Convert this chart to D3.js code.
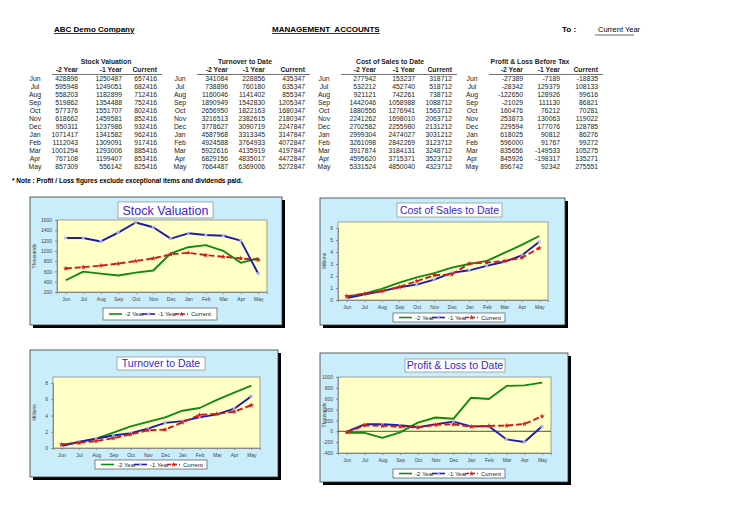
<!DOCTYPE html>
<html>
<head>
<meta charset="utf-8">
<title>Management Accounts</title>
<script src="https://cdnjs.cloudflare.com/ajax/libs/d3/7.8.5/d3.min.js"></script>
<style>
body{
margin:0;
background:#fff
}
svg{
display:block;
font-family:"Liberation Sans",Arial,sans-serif
}
</style>
</head>
<body>
<script>

// data
var months = ['Jun','Jul','Aug','Sep','Oct','Nov','Dec','Jan','Feb','Mar','Apr','May']
var seriesNames = ['-2 Year','-1 Year','Current']

var stockPrev2 = [428896,595948,558203,519862,577376,618662,950311,1071417,1112043,1001294,767108,857309]
var stockPrev1 = [1250487,1249051,1182899,1354488,1551707,1459581,1237986,1341582,1309091,1293006,1199407,556142]
var stockCurrent = [657416,682416,712416,752416,802416,852416,932416,962416,917416,885416,853416,825416]

var turnPrev2 = [341084,738896,1160046,1890949,2656950,3216513,3778627,4587968,4924588,5922616,6829156,7664487]
var turnPrev1 = [228856,760180,1141402,1542830,1822163,2382615,3090719,3313345,3764933,4135919,4835017,6369006]
var turnCurrent = [435347,635347,855347,1205347,1680347,2180347,2247847,3147847,4072847,4197847,4472847,5272847]

var costPrev2 = [277942,532212,921121,1442046,1880556,2241262,2702582,2999304,3261098,3917874,4595620,5331524]
var costPrev1 = [153237,452740,742261,1058988,1276941,1698010,2255980,2474027,2842269,3184131,3715371,4850040]
var costCurrent = [318712,518712,738712,1088712,1563712,2063712,2131212,3031212,3123712,3248712,3523712,4323712]

var profitPrev2 = [-27389,-28342,-122650,-21029,160476,253873,229594,618025,596000,835656,845926,896742]
var profitPrev1 = [-7189,129379,128926,111130,76212,130063,177076,90812,91767,-149533,-198317,92342]
var profitCurrent = [-18835,108133,99616,86821,70281,119022,128785,86276,99272,105275,135271,275551]

var stockTicks = [200,400,600,800,1000,1200,1400,1600]
var costTicks = [0,1,2,3,4,5,6]
var turnTicks = [0,2,4,6,8]
var profitTicks = [-400,-200,0,200,400,600,800,1000]

var tables = [
	{title:'Stock Valuation', series:[stockPrev2,stockPrev1,stockCurrent]},
	{title:'Turnover to Date', series:[turnPrev2,turnPrev1,turnCurrent]},
	{title:'Cost of Sales to Date', series:[costPrev2,costPrev1,costCurrent]},
	{title:'Profit & Loss Before Tax', series:[profitPrev2,profitPrev1,profitCurrent]}
]

// layout
var monthX = [35,180,324,472]
var valueX = [[78,122,157],[228,265,305],[376,415,452],[523,560,598]]
var titleX = [106,245,390,530]

var colors = ['#108a10','#1c1cb0','#d01818']

var charts = [
	{title:'Stock Valuation', series:[stockPrev2,stockPrev1,stockCurrent], div:1000, unit:'Thousands', ticks:stockTicks,
	 box:[30,197,252,128], plot:[57,220,210,72], pad:0, titleBox:[118,202,95,16], titleSize:12.5, legend:[103,308,114,12]},
	{title:'Cost of Sales to Date', series:[costPrev2,costPrev1,costCurrent], div:1000000, unit:'Millions', ticks:costTicks,
	 box:[320,198,245,127], plot:[338,222,210,78], pad:6, titleBox:[397,203,105,14], titleSize:10.5, legend:[393,313,112,9]},
	{title:'Turnover to Date', series:[turnPrev2,turnPrev1,turnCurrent], div:1000000, unit:'Millions', ticks:turnTicks,
	 box:[30,350,248,127], plot:[53,377,207,71], pad:6, titleBox:[117,357,88,13], titleSize:10.5, legend:[95,460,112,9]},
	{title:'Profit & Loss to Date', series:[profitPrev2,profitPrev1,profitCurrent], div:1000, unit:'Thousands', ticks:profitTicks,
	 box:[320,353,248,129], plot:[338,377,213,76], pad:0, titleBox:[405,359,100,13], titleSize:10.5, legend:[393,469,112,9]}
]

var svg = d3.select('body').append('svg').attr('width',730).attr('height',516)

// header
function headText(x, y, s, anchor){
	return svg.append('text').attr('x',x).attr('y',y).attr('font-size',8).attr('font-weight','bold')
		.attr('text-anchor',anchor||'start').text(s)
}
headText(54,32,'ABC Demo Company').attr('text-decoration','underline')
headText(272,32,'MANAGEMENT  ACCOUNTS').attr('text-decoration','underline').style('white-space','pre')
headText(562,32,'To :')
svg.append('text').attr('x',598).attr('y',32).attr('font-size',7.5).text('Current Year')
svg.append('line').attr('x1',595).attr('x2',634).attr('y1',35).attr('y2',35).attr('stroke','#000').attr('stroke-width',0.6)

// tables
tables.forEach(function(t,i){
	var g = svg.append('g').attr('font-size',6.8).attr('fill','#222')
	g.append('text').attr('x',titleX[i]).attr('y',64).attr('text-anchor','middle')
		.attr('font-weight','bold').text(t.title)
	seriesNames.forEach(function(n,j){
		g.append('text').attr('x',valueX[i][j]).attr('y',72).attr('text-anchor','end')
			.attr('font-weight','bold').text(n)
	})
	g.append('line').attr('x1',monthX[i]+17).attr('x2',valueX[i][2]+5).attr('y1',74.5).attr('y2',74.5)
		.attr('stroke','#333').attr('stroke-width',0.7)
	months.forEach(function(m,r){
		var y = 79 + r*8
		g.append('text').attr('x',monthX[i]).attr('y',y).attr('dy','0.35em').attr('text-anchor','middle').text(m)
		t.series.forEach(function(s,j){
			g.append('text').attr('x',valueX[i][j]).attr('y',y).attr('dy','0.35em').attr('text-anchor','end').text(s[r])
		})
	})
})

svg.append('text').attr('x',12).attr('y',183).attr('font-size',6.5).attr('font-weight','bold')
	.text('* Note : Profit / Loss figures exclude exceptional items and dividends paid.')

// charts
function marker(g, idx, x, y){
	if(idx == 1){
		g.append('path').attr('d',d3.symbol(d3.symbolCross,8)()).attr('transform','translate('+x+','+y+') rotate(45)')
			.attr('fill','#b8b8ee')
	}else if(idx == 2){
		g.append('path').attr('d',d3.symbol(d3.symbolStar,9)()).attr('transform','translate('+x+','+y+')')
			.attr('fill','#d01818')
	}
}

charts.forEach(function(c){
	var g = svg.append('g')
	var b = c.box, p = c.plot
	g.append('rect').attr('x',b[0]+3).attr('y',b[1]+3).attr('width',b[2]).attr('height',b[3]).attr('fill','#000')
	g.append('rect').attr('x',b[0]).attr('y',b[1]).attr('width',b[2]).attr('height',b[3])
		.attr('fill','#c9edfb').attr('stroke','#3a3a3a').attr('stroke-width',0.8)
	g.append('rect').attr('x',p[0]).attr('y',p[1]).attr('width',p[2]).attr('height',p[3])
		.attr('fill','#ffffc6').attr('stroke','#8a8a8a').attr('stroke-width',0.8)

	var x = d3.scalePoint().domain(months).range([p[0],p[0]+p[2]]).padding(0.5)
	var y = d3.scaleLinear().domain([c.ticks[0],c.ticks[c.ticks.length-1]]).range([p[1]+p[3],p[1]+c.pad])

	var ya = g.append('g').attr('transform','translate('+p[0]+',0)')
		.call(d3.axisLeft(y).tickValues(c.ticks).tickFormat(function(d){return String(d)}).tickSize(2).tickPadding(3))
	var xa = g.append('g').attr('transform','translate(0,'+(p[1]+p[3])+')')
		.call(d3.axisBottom(x).tickSize(2).tickPadding(3))
	;[ya,xa].forEach(function(a){
		a.attr('font-size',5).attr('font-family','"Liberation Sans",Arial,sans-serif')
		a.select('.domain').attr('stroke','#8a8a8a')
		a.selectAll('.tick line').attr('stroke','#8a8a8a')
		a.selectAll('text').attr('fill','#444')
	})

	if(c.ticks[0] < 0){
		g.append('line').attr('x1',p[0]).attr('x2',p[0]+p[2]).attr('y1',y(0)).attr('y2',y(0))
			.attr('stroke','#222').attr('stroke-width',0.8)
	}

	g.append('text').attr('transform','translate('+(b[0]+5.5)+','+(p[1]+p[3]/2)+') rotate(-90)')
		.attr('text-anchor','middle').attr('font-size',5).attr('fill','#444').text(c.unit)

	var line = d3.line().x(function(d,i){return x(months[i])}).y(function(d){return y(d/c.div)})
	c.series.forEach(function(s,k){
		g.append('path').datum(s).attr('d',line).attr('fill','none').attr('stroke',colors[k])
			.attr('stroke-width',1.9).attr('stroke-dasharray',k==2?'6,3':null).attr('stroke-linejoin','round')
		s.forEach(function(d,i){ marker(g,k,x(months[i]),y(d/c.div)) })
	})

	var tb = c.titleBox
	g.append('rect').attr('x',tb[0]).attr('y',tb[1]).attr('width',tb[2]).attr('height',tb[3])
		.attr('fill','#fff').attr('stroke','#8a8a8a').attr('stroke-width',0.7)
	g.append('text').attr('x',tb[0]+tb[2]/2).attr('y',tb[1]+tb[3]/2).attr('dy','0.36em').attr('text-anchor','middle')
		.attr('font-size',c.titleSize).attr('fill','#3a26c8').text(c.title)

	var lg = c.legend
	g.append('rect').attr('x',lg[0]).attr('y',lg[1]).attr('width',lg[2]).attr('height',lg[3])
		.attr('fill','#fff').attr('stroke','#555').attr('stroke-width',0.7)
	var offs = [6,39,72]
	seriesNames.forEach(function(n,k){
		var lx = lg[0]+offs[k], ly = lg[1]+lg[3]/2
		g.append('line').attr('x1',lx).attr('x2',lx+13).attr('y1',ly).attr('y2',ly)
			.attr('stroke',colors[k]).attr('stroke-width',1.6).attr('stroke-dasharray',k==2?'4,2':null)
		marker(g,k,lx+6.5,ly)
		g.append('text').attr('x',lx+16).attr('y',ly).attr('dy','0.35em').attr('font-size',6).attr('fill','#222').text(n)
	})
})

</script>
</body>
</html>
